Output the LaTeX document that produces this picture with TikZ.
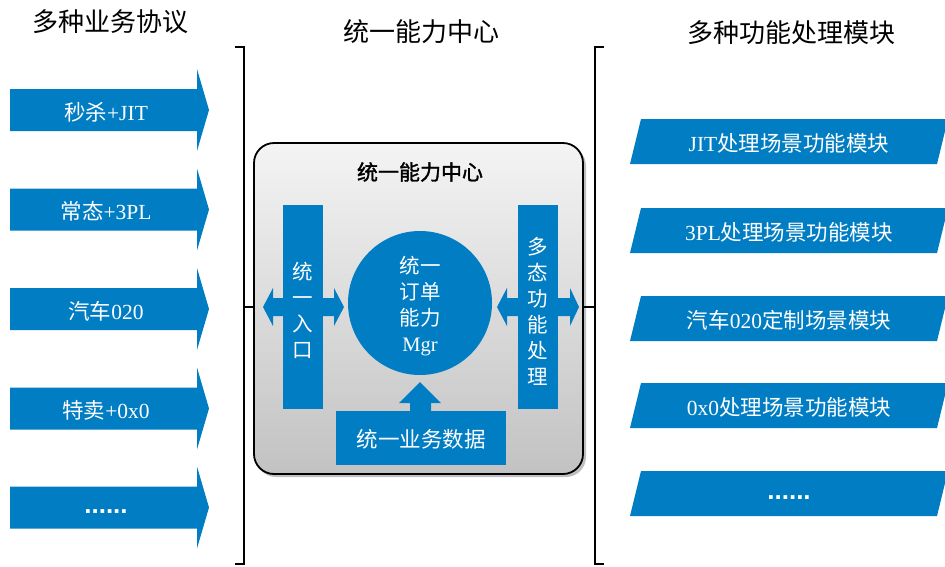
\documentclass[tikz,border=0pt]{standalone}
\usepackage{fontspec}
\setmainfont{Noto Sans CJK SC}[AutoFakeBold=1.5]
\newfontfamily\latfont{Liberation Serif}
\newfontfamily\dotfont{Liberation Sans Bold}
\newcommand\lat[1]{{\latfont #1}}
\newcommand\mydots{{\dotfont ......}}
\definecolor{cblue}{RGB}{0,125,195}
\definecolor{gtop}{RGB}{244,244,244}
\definecolor{gbot}{RGB}{194,194,194}
\tikzset{
  bluefill/.style={fill=cblue, draw=none},
  wtxt/.style={text=white, font=\fontsize{21.5}{26}\selectfont, inner sep=0pt},
  stk/.style={text=white, font=\fontsize{20.5}{26}\selectfont, inner sep=0pt, align=center},
  headtxt/.style={text=black, font=\fontsize{26}{30}\selectfont, inner sep=0pt},
  dottxt/.style={text=white, font=\fontsize{26}{28}\selectfont, inner sep=0pt, anchor=base},
  brk/.style={line width=2.5pt},
  centerbox/.style={draw=black, line width=1.8pt, rounded corners=20pt, top color=gtop, bottom color=gbot, minimum width=329pt, minimum height=331pt, inner sep=0pt},
}
\begin{document}
\begin{tikzpicture}[x=1pt, y=-1pt]
\useasboundingbox (0,0) rectangle (945,566);
\fill[white] (0,0) rectangle (945,566);

% headers
\node[headtxt] (h1) at (110,22) {多种业务协议};
\node[headtxt] (h2) at (421,32) {统一能力中心};
\node[headtxt] (h3) at (791,33) {多种功能处理模块};

% left arrows
\foreach \y/\t/\i in {110/{秒杀\lat{+JIT}}/1, 209.5/{常态\lat{+3PL}}/2, 309/{汽车\lat{020}}/3, 408.5/{特卖\lat{+0x0}}/4} {
  \fill[bluefill] (10,{\y-21}) -- (197,{\y-21}) -- (197,{\y-41}) -- (209,\y) -- (197,{\y+41}) -- (197,{\y+21}) -- (10,{\y+21}) -- cycle;
  \node[wtxt] (in\i) at (106,{\y+2}) {\t};
}
\fill[bluefill] (10,486.5) -- (197,486.5) -- (197,466.5) -- (209,507.5) -- (197,548.5) -- (197,528.5) -- (10,528.5) -- cycle;
\node[dottxt] (in5) at (106,513) {\mydots};

% right parallelograms
\foreach \t/\tx/\i in {119/{\lat{JIT}处理场景功能模块}/1, 208/{\lat{3PL}处理场景功能模块}/2, 296/{汽车\lat{020}定制场景模块}/3, 383/{\lat{0x0}处理场景功能模块}/4} {
  \fill[bluefill] (641,\t) -- (948,\t) -- (937,{\t+45}) -- (630,{\t+45}) -- cycle;
  \node[wtxt] (out\i) at (789,{\t+24}) {\tx};
}
\fill[bluefill] (641,471) -- (948,471) -- (937,516) -- (630,516) -- cycle;
\node[dottxt] (out5) at (789,499) {\mydots};

% brackets
\coordinate (lbt) at (244,47);
\coordinate (lbm) at (244,307);
\coordinate (lbb) at (244,564);
\coordinate (rbt) at (595,47);
\coordinate (rbm) at (595,307);
\coordinate (rbb) at (595,564);
\draw[brk] (235,47) -- (lbt) -- (lbb) -- (235,564);
\draw[brk] (604,47) -- (rbt) -- (rbb) -- (604,564);

% center box
\fill[black, opacity=0.25, rounded corners=20pt] (256,146) rectangle (586,477);
\node[centerbox] (cbox) at (418.5,308.5) {};
\draw[brk] (lbm) -- (cbox.west |- lbm);
\draw[brk] (rbm) -- (cbox.east |- rbm);
\node[text=black, font=\fontsize{21}{24}\selectfont\bfseries, inner sep=0pt] (ctitle) at (420,172) {统一能力中心};

% double arrows
\fill[bluefill] (263,307) -- (273,288) -- (273,298) -- (334,298) -- (334,288) -- (344,307) -- (334,326) -- (334,316) -- (273,316) -- (273,326) -- cycle;
\fill[bluefill] (497,307) -- (507,288) -- (507,298) -- (570,298) -- (570,288) -- (579,307) -- (570,326) -- (570,316) -- (507,316) -- (507,326) -- cycle;

% bars
\fill[bluefill] (283,205) rectangle (323,409);
\node[stk] (entry) at (303,310) {统\\一\\入\\口};
\fill[bluefill] (518,205) rectangle (558,409);
\node[stk] (poly) at (538,311) {多\\态\\功\\能\\处\\理};

% circle
\fill[bluefill] (420,303) circle (72);
\node[stk] (mgr) at (420,306) {统一\\订单\\能力\\\lat{Mgr}};

% up arrow and bottom box
\fill[bluefill] (420,382) -- (441,403) -- (431,403) -- (431,412) -- (410,412) -- (410,403) -- (399,403) -- cycle;
\fill[bluefill] (336,411) rectangle (506,465);
\node[wtxt] (data) at (421,439) {统一业务数据};
\end{tikzpicture}
\end{document}
